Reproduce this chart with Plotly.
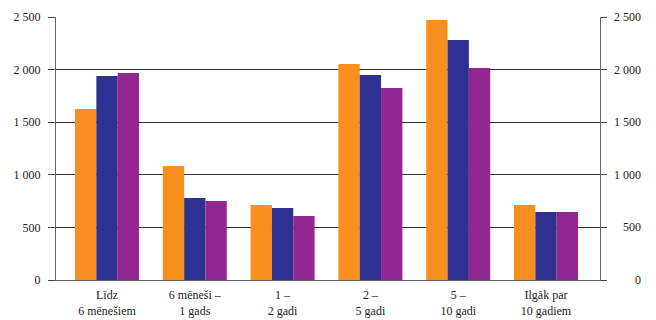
import plotly.graph_objects as go

# Categories (duration) and the three series
categories = ["Līdz<br>6 mēnešiem", "6 mēneši –<br>1 gads", "1 –<br>2 gadi",
              "2 –<br>5 gadi", "5 –<br>10 gadi", "Ilgāk par<br>10 gadiem"]
series_a = [1625, 1084, 713, 2053, 2471, 713]
series_b = [1939, 780, 684, 1949, 2281, 646]
series_c = [1968, 751, 608, 1825, 2015, 646]

tick_vals = [0, 500, 1000, 1500, 2000, 2500]
tick_text = ["0", "500", "1 000", "1 500", "2 000", "2 500"]

colors = ["#F7901E", "#2E3192", "#92278F"]
font = dict(family="Liberation Serif", size=12, color="#222222")

fig = go.Figure()
x_idx = list(range(len(categories)))
for vals, col in zip([series_a, series_b, series_c], colors):
    fig.add_trace(go.Bar(x=x_idx, y=vals, marker=dict(color=col, line=dict(width=0)),
                         showlegend=False))

# invisible trace to activate the right-hand axis
fig.add_trace(go.Scatter(x=[0], y=[0], yaxis="y2", mode="markers",
                         marker=dict(opacity=0), showlegend=False, hoverinfo="skip"))

# right-aligned labels for the right axis
annotations = [dict(xref="paper", yref="y", x=1, y=v, text=t, xanchor="right",
                    yanchor="middle", xshift=43, showarrow=False, font=font)
               for v, t in zip(tick_vals, tick_text)]

fig.update_layout(
    width=656, height=320,
    margin=dict(l=56, r=56, t=17, b=40, autoexpand=False),
    paper_bgcolor="white", plot_bgcolor="white",
    barmode="group", bargap=0.271, bargroupgap=0,
    font=font,
    xaxis=dict(tickmode="array", tickvals=x_idx, ticktext=categories,
               range=[-0.581, 5.615], showgrid=False, ticks="",
               showline=True, linecolor="#666666", linewidth=1,
               tickfont=font, zeroline=False, automargin=False,
               ticklabelstandoff=4),
    yaxis=dict(range=[0, 2500], tickmode="array", tickvals=tick_vals, ticktext=tick_text,
               showgrid=True, gridcolor="#333333", gridwidth=1,
               ticks="outside", ticklen=7, tickcolor="#444444",
               showline=True, linecolor="#666666", linewidth=1,
               zeroline=False, tickfont=font, ticklabelstandoff=5, automargin=False),
    yaxis2=dict(range=[0, 2500], overlaying="y", side="right",
                tickmode="array", tickvals=tick_vals, showticklabels=False,
                ticks="outside", ticklen=6, tickcolor="#444444",
                showline=True, linecolor="#666666", linewidth=1,
                showgrid=False, zeroline=False, automargin=False),
    annotations=annotations,
)

fig.write_html("out.html")
